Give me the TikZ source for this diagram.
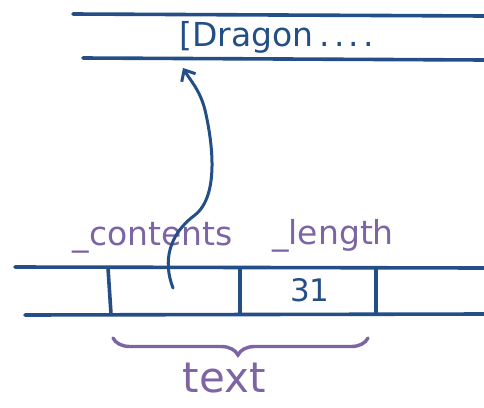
\documentclass[tikz,border=0pt]{standalone}
\usepackage{fontspec}
\setmainfont{DejaVu Sans}
\usetikzlibrary{arrows.meta,decorations.pathreplacing}
\definecolor{ink}{HTML}{244F86}
\definecolor{violet}{HTML}{7D64A5}
\begin{document}
\begin{tikzpicture}[x=1pt,y=-1pt,
  rail/.style={ink,line width=3.6pt,line cap=round},
  note/.style={violet,font=\fontsize{33}{35}\selectfont},
  cell/.style={ink,font=\fontsize{31}{33}\selectfont}]
\useasboundingbox (0,0) rectangle (484,407);
% upper strip holding the string data
\draw[rail] (73,14) -- (484,16);
\draw[rail] (83,58) -- (484,60);
\node[cell,anchor=west,font=\fontsize{33}{35}\selectfont] (data) at (176,37) {[Dragon\kern6pt.\kern4pt.\kern4pt.\kern4pt.};
% lower strip: the object fields
\draw[rail] (15,267) -- (484,268);
\draw[rail] (25,315) -- (484,314);
\draw[rail] (108,268) -- (111,314);
\draw[rail] (240,268) -- (240,314);
\draw[rail] (376,268) -- (376,314);
\node[cell] (len) at (310,290) {31};
\coordinate (ptr) at (173,288);
% field names
\node[note] (contents) at (153,238) {\_contents};
\node[note] (length) at (333,236) {\_length};
% pointer from the contents field up to the data
\draw[rail,line width=3pt,-{Straight Barb[length=9pt,width=16pt]}] (ptr)
  .. controls (163,262) and (168,235) .. (195,215)
  .. controls (220,195) and (212,140) .. (205,110)
  .. controls (200,90) and (190,80) .. (183,68);
% brace over the text span
\coordinate (bl) at (113,338);
\coordinate (br) at (368,338);
\draw[violet,line width=3.4pt,line cap=round,decorate,
  decoration={brace,mirror,amplitude=17pt,aspect=0.49}] (bl) -- (br);
\node[note,font=\fontsize{42}{44}\selectfont] (txt) at (224,378) {text};
\end{tikzpicture}
\end{document}
